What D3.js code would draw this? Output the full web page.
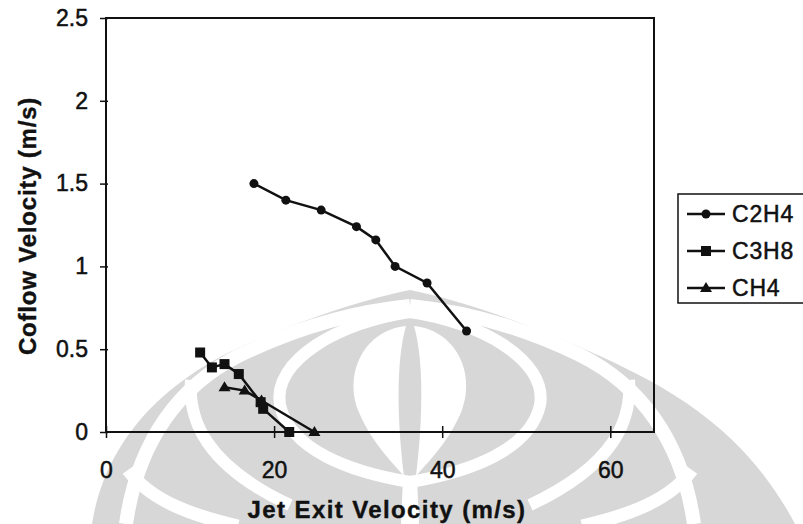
<!DOCTYPE html>
<html>
<head>
<meta charset="utf-8">
<script src="https://cdn.jsdelivr.net/npm/d3@7"></script>
<style>
  body { margin: 0; background: #fff; }
  svg { display: block; font-family: "Liberation Sans", Arial, sans-serif; }
</style>
</head>
<body>
<script>
// data
var seriesNames = ["C2H4", "C3H8", "CH4"]
var c2h4Jet  = [17.6, 21.4, 25.6, 29.8, 32.1, 34.4, 38.2, 42.9]
var c2h4Flow = [1.50, 1.40, 1.34, 1.24, 1.16, 1.00, 0.90, 0.61]
var c3h8Jet  = [11.2, 12.6, 14.1, 15.8, 18.4, 18.7, 21.8]
var c3h8Flow = [0.48, 0.39, 0.41, 0.35, 0.18, 0.14, 0.00]
var ch4Jet   = [14.1, 16.5, 18.5, 24.8]
var ch4Flow  = [0.27, 0.25, 0.19, 0.00]
var xTicks = [0, 20, 40, 60]
var yTicks = [0, 0.5, 1, 1.5, 2, 2.5]

var W = 803, H = 524
var svg = d3.select("body").append("svg").attr("width", W).attr("height", H)

// ---------------- watermark (rough logo behind the chart) ----------------
var wm = svg.append("g")
function band(d, w) {
  wm.append("path").attr("d", d).attr("fill", "none").attr("stroke", "#fff").attr("stroke-width", w)
}
wm.append("path")
  .attr("d", "M92,524 C105,440 165,380 245,345 C315,315 370,298 410,290 C450,298 505,315 575,345 C655,380 740,420 795,524 Z")
  .attr("fill", "#d7d7d7")
// outer petal outlines
band("M126,524 C138,440 180,385 240,355 C300,326 360,311 410,306", 14)
band("M694,524 C682,440 640,385 580,355 C520,326 460,311 410,306", 14)
// center teardrop ring
band("M410,312 C340,322 272,360 280,405 C290,450 350,472 410,482", 12)
band("M410,312 C480,322 548,360 540,405 C530,450 470,472 410,482", 12)
// inner outline of side petals
band("M191,380 C188,420 205,465 290,505", 12)
band("M629,380 C632,420 615,465 530,505", 12)
// lower outline of side petals
band("M128,470 C150,500 190,515 238,526", 13)
band("M692,470 C670,500 630,515 582,526", 13)
// central flame
wm.append("path").attr("d", "M406,326 C365,330 344,372 358,410 C370,440 390,460 404,476 C397,420 396,360 406,326 Z").attr("fill", "#fff")
wm.append("path").attr("d", "M414,326 C455,330 476,372 462,410 C450,440 430,460 416,476 C423,420 424,360 414,326 Z").attr("fill", "#fff")
wm.append("path").attr("d", "M403,478 L417,478 L419,524 L401,524 Z").attr("fill", "#fff")

// ---------------- scales ----------------
var x = d3.scaleLinear().domain([0, 65.2]).range([106, 654])
var y = d3.scaleLinear().domain([0, 2.5]).range([432, 18])

// frame
svg.append("rect")
  .attr("x", x(0)).attr("y", y(2.5))
  .attr("width", x(65.2) - x(0)).attr("height", y(0) - y(2.5))
  .attr("fill", "none").attr("stroke", "#111").attr("stroke-width", 2)

// axes
var yAxis = svg.append("g").attr("transform", "translate(" + x(0) + ",0)")
  .call(d3.axisLeft(y).tickValues(yTicks).tickFormat(function (d) { return String(d) }).tickSize(6).tickPadding(12))
var xAxis = svg.append("g").attr("transform", "translate(0," + y(0) + ")")
  .call(d3.axisBottom(x).tickValues(xTicks).tickFormat(function (d) { return String(d) }).tickSize(6).tickPadding(24))

;[xAxis, yAxis].forEach(function (a) {
  a.select(".domain").remove()
  a.selectAll(".tick line").attr("stroke", "#111").attr("stroke-width", 1.5)
  a.selectAll("text").attr("fill", "#111").attr("stroke", "#111").attr("stroke-width", 0.5)
    .style("font-size", "23px").style("font-family", "Liberation Sans, Arial, sans-serif")
})
xAxis.selectAll(".tick line").attr("y1", -6).attr("y2", 6)
yAxis.selectAll(".tick line").attr("x1", -6).attr("x2", 2)

// axis titles
svg.append("text")
  .attr("x", 387).attr("y", 518).attr("text-anchor", "middle")
  .attr("font-weight", "bold").attr("font-size", 24).attr("letter-spacing", 1.4)
  .attr("fill", "#111").attr("stroke", "#111").attr("stroke-width", 0.4)
  .text("Jet Exit Velocity (m/s)")
svg.append("text")
  .attr("transform", "translate(36,226) rotate(-90)").attr("text-anchor", "middle")
  .attr("font-weight", "bold").attr("font-size", 24).attr("letter-spacing", 0.8)
  .attr("fill", "#111").attr("stroke", "#111").attr("stroke-width", 0.4)
  .text("Coflow Velocity (m/s)")

// ---------------- series ----------------
var series = [
  { name: seriesNames[0], xs: c2h4Jet, ys: c2h4Flow, shape: "circle" },
  { name: seriesNames[1], xs: c3h8Jet, ys: c3h8Flow, shape: "square" },
  { name: seriesNames[2], xs: ch4Jet,  ys: ch4Flow,  shape: "triangle" }
]

function marker(g, shape, cx, cy) {
  if (shape == "circle") {
    g.append("circle").attr("cx", cx).attr("cy", cy).attr("r", 4.5).attr("fill", "#111")
  } else if (shape == "square") {
    g.append("rect").attr("x", cx - 5).attr("y", cy - 5).attr("width", 10).attr("height", 10).attr("fill", "#111")
  } else {
    g.append("path").attr("d", "M" + cx + "," + (cy - 6) + "L" + (cx + 6) + "," + (cy + 4) + "L" + (cx - 6) + "," + (cy + 4) + "Z")
      .attr("fill", "#111")
  }
}

var line = d3.line().x(function (d) { return x(d[0]) }).y(function (d) { return y(d[1]) })

series.forEach(function (s) {
  var pts = s.xs.map(function (v, i) { return [v, s.ys[i]] })
  var g = svg.append("g")
  g.append("path").attr("d", line(pts))
    .attr("fill", "none").attr("stroke", "#111").attr("stroke-width", 2.5)
  pts.forEach(function (p) { marker(g, s.shape, x(p[0]), y(p[1])) })
})

// ---------------- legend ----------------
var leg = svg.append("g")
leg.append("rect").attr("x", 678).attr("y", 194).attr("width", 160).attr("height", 109)
  .attr("fill", "#fff").attr("stroke", "#111").attr("stroke-width", 1.5)
series.forEach(function (s, i) {
  var ly = 214 + i * 37
  leg.append("line").attr("x1", 687).attr("x2", 725).attr("y1", ly).attr("y2", ly)
    .attr("stroke", "#111").attr("stroke-width", 2.5)
  marker(leg, s.shape, 706, ly)
  leg.append("text").attr("x", 732).attr("y", ly + 8).attr("font-size", 23)
    .attr("letter-spacing", 0.8).attr("fill", "#111").attr("stroke", "#111").attr("stroke-width", 0.5)
    .text(s.name)
})
</script>
</body>
</html>
